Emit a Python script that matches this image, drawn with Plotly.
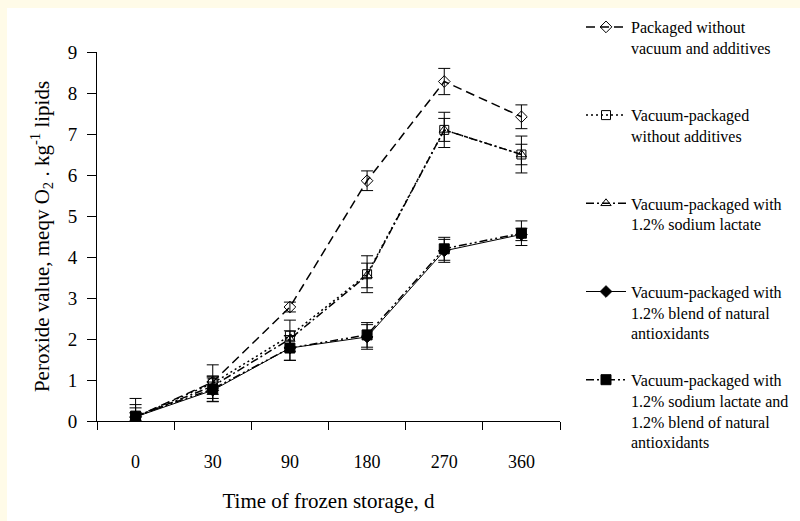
import plotly.graph_objects as go

days = ["0", "30", "90", "180", "270", "360"]

names = [
    "Packaged without<br>vacuum and additives",
    "Vacuum-packaged<br>without additives",
    "Vacuum-packaged with<br>1.2% sodium lactate",
    "Vacuum-packaged with<br>1.2% blend of natural<br>antioxidants",
    "Vacuum-packaged with<br>1.2% sodium lactate and<br>1.2% blend of natural<br>antioxidants",
]

pv_no_vacuum = [0.10, 0.95, 2.78, 5.86, 8.28, 7.42]
err_no_vacuum = [0.10, 0.15, 0.12, 0.24, 0.32, 0.29]

pv_vacuum = [0.10, 0.92, 2.08, 3.58, 7.10, 6.50]
err_vacuum = [0.45, 0.45, 0.38, 0.45, 0.43, 0.45]

pv_lactate = [0.10, 0.85, 2.00, 3.55, 7.10, 6.50]
err_lactate = [0.30, 0.20, 0.20, 0.30, 0.28, 0.25]

pv_antiox = [0.10, 0.75, 1.78, 2.05, 4.15, 4.55]
err_antiox = [0.10, 0.20, 0.30, 0.30, 0.28, 0.15]

pv_both = [0.12, 0.78, 1.78, 2.10, 4.20, 4.58]
err_both = [0.20, 0.30, 0.30, 0.30, 0.28, 0.30]

series = [
    (pv_no_vacuum, err_no_vacuum, "diamond-open", 9, "9px,5px", 1.5),
    (pv_vacuum, err_vacuum, "square-open", 9, "2px,3px", 1.5),
    (pv_lactate, err_lactate, "triangle-up-open", 9, "8px,3px,2px,3px", 1.5),
    (pv_antiox, err_antiox, "diamond", 9, "solid", 1.0),
    (pv_both, err_both, "square", 10, "8px,3px,2px,3px,2px,3px", 1.5),
]

pad_lines = [2, 2, 2, 1, 0]

fig = go.Figure()
for i, (vals, errs, sym, size, dash, lw) in enumerate(series):
    label = names[i] + "<br>&nbsp;" * pad_lines[i]
    fig.add_trace(go.Scatter(
        x=days, y=vals, name=label, legendgroup=f"g{i}",
        mode="lines+markers",
        line=dict(color="black", width=lw, dash=dash),
        marker=dict(symbol=sym, size=size, color="black",
                    line=dict(color="black", width=1)),
        error_y=dict(type="data", array=errs, visible=True,
                     color="black", thickness=1, width=6),
    ))

L, R, T, B = 97, 240, 52, 100
PW, PH = 800 - L - R, 521 - T - B

def px_x(p):
    return (p - L) / PW

def px_y(p):
    return (521 - B - p) / PH

fig.add_shape(type="rect", xref="paper", yref="paper",
              x0=px_x(7), x1=px_x(810), y0=px_y(530), y1=px_y(8),
              fillcolor="white", line=dict(width=0), layer="below")

serif = "Liberation Serif"
fig.update_layout(
    width=800, height=521,
    margin=dict(l=L, r=R, t=T, b=B, autoexpand=False),
    paper_bgcolor="#fffbe8",
    plot_bgcolor="white",
    font=dict(family=serif, color="black"),
    showlegend=True,
    legend=dict(x=px_x(581), xanchor="left", y=px_y(10), yanchor="top",
                font=dict(family=serif, size=16, color="black"),
                valign="top", tracegroupgap=2, traceorder="grouped",
                bgcolor="rgba(0,0,0,0)", itemwidth=40, maxheight=515),
    xaxis=dict(
        type="category", range=[-0.5, 5.5],
        showline=True, linecolor="black", linewidth=1,
        ticks="outside", tickson="boundaries", ticklen=8, tickcolor="black",
        showgrid=False, zeroline=False,
        tickfont=dict(family=serif, size=18),
        ticklabelstandoff=24,
        title=dict(text="Time of frozen storage, d",
                   font=dict(family=serif, size=21), standoff=22),
    ),
    yaxis=dict(
        range=[0, 9], dtick=1,
        showline=True, linecolor="black", linewidth=1,
        ticks="outside", ticklen=9, tickcolor="black",
        showgrid=False, zeroline=False,
        tickfont=dict(family=serif, size=19),
        ticklabelstandoff=6,
        title=dict(text="Peroxide value, meqv O<sub>2</sub> . kg<sup>-1</sup> lipids",
                   font=dict(family=serif, size=21), standoff=12),
    ),
)

fig.write_html("out.html", config={"displayModeBar": False},
               post_script="document.body.style.margin='0';")
